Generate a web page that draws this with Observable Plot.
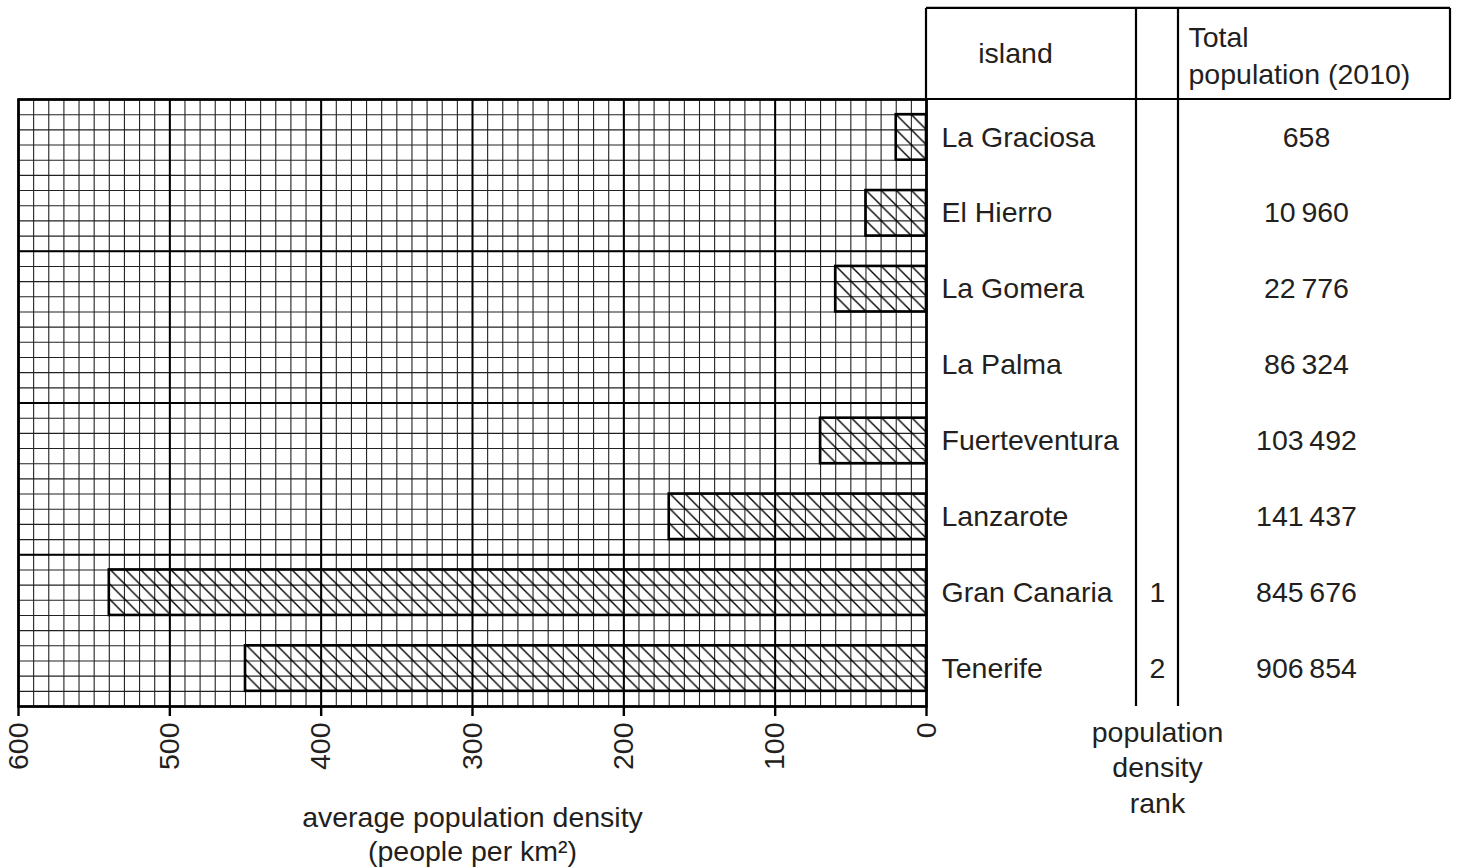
<!DOCTYPE html>
<html>
<head>
<meta charset="utf-8">
<script src="https://cdn.jsdelivr.net/npm/d3@7"></script>
<script src="https://cdn.jsdelivr.net/npm/@observablehq/plot@0.6"></script>
<style>
  html, body { margin: 0; padding: 0; background: #fff; }
  #chart svg { display: block; }
</style>
</head>
<body>
<div id="chart"></div>
<script>
// ---- data ----
const islands = ["La Graciosa", "El Hierro", "La Gomera", "La Palma", "Fuerteventura", "Lanzarote", "Gran Canaria", "Tenerife"];
const densities = [20, 40, 60, null, 70, 170, 540, 450];   // people per km² (La Palma left blank)
const ranks = ["", "", "", "", "", "", "1", "2"];
const populations = ["658", "10\u2009960", "22\u2009776", "86\u2009324", "103\u2009492", "141\u2009437", "845\u2009676", "906\u2009854"];
const xTicks = [0, 100, 200, 300, 400, 500, 600];
const xMinor = d3.range(0, 601, 10);
const yMinor = d3.range(0, 8.001, 0.2);
const yMajor = [0, 2, 4, 6, 8];
const headerIsland = "island";
const headerPop = "Total\npopulation (2010)";
const xLabel = "average population density\n(people per km²)";
const rankLabel = "population\ndensity\nrank";

const rows = islands.map((island, i) => ({island, row: i, density: densities[i], rank: ranks[i], population: populations[i]}));

const font = "'Liberation Sans', Arial, Helvetica, sans-serif";
const ink = "#231f20";
const FS = 28.5;
const headerRows = 1.2; // header height in row units

// custom mark: the table grid on the right
function tableLines(index, scales, values, dim) {
  const left = dim.width - dim.marginRight;
  const c1 = left + 210, c2 = left + 252, right = left + 524;
  const yTop = scales.y(-headerRows), y0 = scales.y(0), yBot = scales.y(8);
  const g = d3.create("svg:g").attr("stroke", "#000").attr("stroke-width", 2.2).attr("fill", "none");
  g.append("line").attr("x1", left).attr("x2", right).attr("y1", yTop).attr("y2", yTop);
  g.append("line").attr("x1", left).attr("x2", right).attr("y1", y0).attr("y2", y0);
  g.append("line").attr("x1", left).attr("x2", left).attr("y1", yTop).attr("y2", y0);
  g.append("line").attr("x1", right).attr("x2", right).attr("y1", yTop).attr("y2", y0);
  g.append("line").attr("x1", c1).attr("x2", c1).attr("y1", yTop).attr("y2", yBot);
  g.append("line").attr("x1", c2).attr("x2", c2).attr("y1", yTop).attr("y2", yBot);
  return g.node();
}

const plot = Plot.plot({
  width: 1457,
  height: 868,
  marginLeft: 18,
  marginRight: 531,
  marginTop: 99,
  marginBottom: 162,
  style: {fontFamily: font, fontSize: FS + "px", color: ink, background: "#fff"},
  x: {domain: [0, 600], reverse: true},
  y: {domain: [0, 8], reverse: true, axis: null},
  marks: [
    // minor grid
    Plot.ruleX(xMinor, {stroke: "#222", strokeWidth: 1.1}),
    Plot.ruleY(yMinor, {stroke: "#222", strokeWidth: 1.1}),
    // major grid
    Plot.ruleX(xTicks, {stroke: "#000", strokeWidth: 2}),
    Plot.ruleY(yMajor, {stroke: "#000", strokeWidth: 2}),
    // bars
    Plot.rectX(rows.filter(d => d.density != null), {
      x1: 0, x2: "density",
      y1: d => d.row + 0.2, y2: d => d.row + 0.8,
      fill: "url(#hatch)", stroke: "#000", strokeWidth: 2.6
    }),
    Plot.frame({stroke: "#000", strokeWidth: 2.6}),
    Plot.axisX({
      ticks: xTicks, tickRotate: -90, tickSize: 10, tickPadding: 6,
      fontSize: FS, strokeWidth: 2.4, stroke: "#000", label: null, fill: ink
    }),
    // table
    tableLines,
    Plot.text(rows, {y: d => d.row + 0.5, text: "island", frameAnchor: "right", dx: 15, textAnchor: "start", fontSize: FS, fill: ink}),
    Plot.text(rows, {y: d => d.row + 0.5, text: "rank", frameAnchor: "right", dx: 231, textAnchor: "middle", fontSize: FS, fill: ink}),
    Plot.text(rows, {y: d => d.row + 0.5, text: "population", frameAnchor: "right", dx: 380, textAnchor: "middle", fontSize: FS, fill: ink}),
    Plot.text([headerIsland], {y: [-headerRows / 2], text: d => d, frameAnchor: "right", dx: 89, textAnchor: "middle", fontSize: FS, fill: ink}),
    Plot.text([headerPop], {y: [-headerRows / 2], text: d => d, frameAnchor: "right", dx: 262, textAnchor: "start", lineHeight: 1.28, fontSize: FS, fill: ink}),
    // labels below
    Plot.text([xLabel], {text: d => d, frameAnchor: "bottom", dy: 97, lineAnchor: "top", lineHeight: 1.18, fontSize: FS, fill: ink}),
    Plot.text([rankLabel], {text: d => d, frameAnchor: "bottom-right", dx: 231, dy: 10, lineAnchor: "top", textAnchor: "middle", lineHeight: 1.25, fontSize: FS, fill: ink})
  ]
});

// hatch pattern aligned to the grid
const xs = plot.scale("x"), ys = plot.scale("y");
const step = Math.abs(xs.apply(10) - xs.apply(0));
const defs = d3.select(plot).insert("defs", ":first-child");
const pat = defs.append("pattern")
  .attr("id", "hatch")
  .attr("patternUnits", "userSpaceOnUse")
  .attr("x", xs.apply(0)).attr("y", ys.apply(0))
  .attr("width", step).attr("height", step);
pat.append("path")
  .attr("d", `M${-step / 4},${step * 3 / 4}L${step / 4},${step * 5 / 4}M0,0L${step},${step}M${step * 3 / 4},${-step / 4}L${step * 5 / 4},${step / 4}`)
  .attr("stroke", "#000").attr("stroke-width", 1.4).attr("fill", "none");

document.getElementById("chart").appendChild(plot);
</script>
</body>
</html>
